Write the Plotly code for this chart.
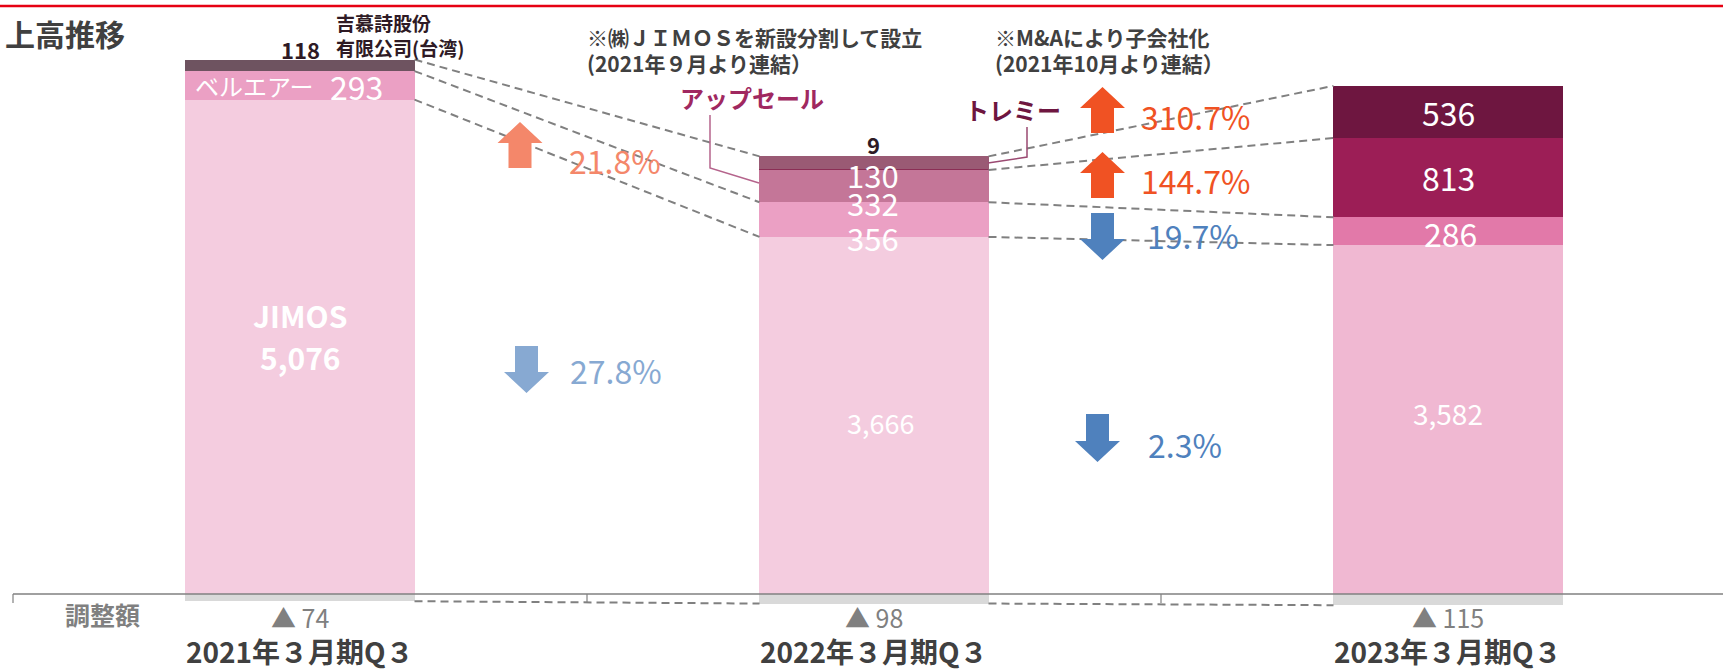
import plotly.graph_objects as go
import numpy as np

# ---------------- data ----------------
categories = ["2021年３月期Q３", "2022年３月期Q３", "2023年３月期Q３"]
jimos = [5076, 3666, 3582]
bellair = [293, 356, 286]
upsell = [0, 332, 813]
jimos_tw = [118, 9, 0]
tremy = [0, 130, 536]
adjustment = [-74, -98, -115]
pct_labels = ["21.8%", "27.8%", "310.7%", "144.7%", "19.7%", "2.3%"]

W, H = 1723, 671
FONT = "Noto Sans CJK JP"

# axis geometry
PX_PER_CAT = 574.0
X0_PX = 300.0
ZERO_PX = 594.0
PX_PER_UNIT = 0.0974
xmin = -X0_PX / PX_PER_CAT
xmax = xmin + W / PX_PER_CAT
ymax = ZERO_PX / PX_PER_UNIT
ymin = -(H - ZERO_PX) / PX_PER_UNIT
BW = 0.399

def px(xp):
    return xmin + xp / PX_PER_CAT

def py(yp):
    return (ZERO_PX - yp) / PX_PER_UNIT

xs = [0, 1, 2]
fig = go.Figure()

def add_bar(vals, colors, name):
    fig.add_trace(go.Bar(x=xs, y=vals, width=BW, name=name,
                         marker=dict(color=colors, line=dict(width=0)),
                         hoverinfo="skip", showlegend=False))

add_bar(adjustment, ["#D9D9D9"] * 3, "調整額")
add_bar(jimos, ["#F4CCDF", "#F4CCDF", "#F0B8D2"], "JIMOS")
add_bar(bellair, ["#EBA0C4", "#EBA0C4", "#E279A9"], "ベルエアー")
add_bar(upsell, ["#C47698", "#C47698", "#9C1E56"], "アップセール")
add_bar(jimos_tw, ["#6E5360", "#8B2E55", "#6E5360"], "吉慕詩")
add_bar(tremy, ["#9A5A74", "#9A5A74", "#6E1640"], "トレミー")

# cumulative tops
c_j = np.array(jimos)
c_b = c_j + np.array(bellair)
c_u = c_b + np.array(upsell)
c_t = c_u + np.array(jimos_tw)
c_all = c_t + np.array(tremy)

connections = [
    (0, c_all[0], c_all[1]),
    (0, c_b[0], c_b[1]),
    (0, c_j[0], c_j[1]),
    (0, adjustment[0], adjustment[1]),
    (1, c_all[1], c_all[2]),
    (1, c_u[1], c_u[2]),
    (1, c_b[1], c_b[2]),
    (1, c_j[1], c_j[2]),
    (1, adjustment[1], adjustment[2]),
]
for i, ya, yb in connections:
    fig.add_trace(go.Scatter(x=[i + BW / 2, i + 1 - BW / 2], y=[ya, yb], mode="lines",
                             line=dict(color="#808080", width=2, dash="8px,5px"),
                             hoverinfo="skip", showlegend=False))

shapes = []
# red top rule
shapes.append(dict(type="line", xref="paper", yref="paper", x0=0, x1=1,
                   y0=1 - 6 / H, y1=1 - 6 / H, line=dict(color="#E60012", width=2.5)))
# baseline + ticks
shapes.append(dict(type="line", xref="x", yref="y", x0=-0.5, x1=xmax, y0=0, y1=0,
                   line=dict(color="#808080", width=1.5)))
for t in [-0.5, 0.5, 1.5]:
    shapes.append(dict(type="line", xref="x", yref="y", x0=t, x1=t, y0=0, y1=py(ZERO_PX + 9),
                       line=dict(color="#808080", width=1.2)))

def arrow(cx, top, bottom, up, color, w=45, sw=23, hh=21):
    if up:
        pts = [(cx, top), (cx + w / 2, top + hh), (cx + sw / 2, top + hh), (cx + sw / 2, bottom),
               (cx - sw / 2, bottom), (cx - sw / 2, top + hh), (cx - w / 2, top + hh)]
    else:
        pts = [(cx, bottom), (cx + w / 2, bottom - hh), (cx + sw / 2, bottom - hh), (cx + sw / 2, top),
               (cx - sw / 2, top), (cx - sw / 2, bottom - hh), (cx - w / 2, bottom - hh)]
    path = "M " + " L ".join(f"{px(a):.5f},{py(b):.3f}" for a, b in pts) + " Z"
    return dict(type="path", xref="x", yref="y", path=path, fillcolor=color, line=dict(width=0))

C_UP1, C_DN1 = "#F4876A", "#87A9D2"
C_UP2, C_DN2 = "#F05223", "#4F81BD"
shapes += [
    arrow(520, 122, 168, True, C_UP1),
    arrow(526.5, 346, 393, False, C_DN1),
    arrow(1102.5, 87, 133, True, C_UP2),
    arrow(1102.5, 152, 198, True, C_UP2),
    arrow(1102.5, 213, 260, False, C_DN2),
    arrow(1097.5, 414, 462, False, C_DN2),
]

# callout lines
def polyline(points, color):
    path = "M " + " L ".join(f"{px(a):.5f},{py(b):.3f}" for a, b in points)
    return dict(type="path", xref="x", yref="y", path=path, line=dict(color=color, width=1.5))

shapes.append(polyline([(710, 115), (710, 168), (759, 183)], "#B5648C"))
shapes.append(polyline([(988, 163), (1027, 157), (1027, 127)], "#9B4A72"))

ann = []
def T(text, x, y, size, color, bold=False, anchor="center"):
    ann.append(dict(text=f"<b>{text}</b>" if bold else text, x=px(x), y=py(y), xref="x", yref="y",
                    showarrow=False, xanchor=anchor, yanchor="middle",
                    font=dict(family=FONT, size=size, color=color)))

T("上高推移", 3, 33, 30, "#404040", True, "left")
T("吉慕詩股份", 334, 22, 19, "#2E1A25", True, "left")
T("有限公司(台湾)", 334, 47, 19, "#2E1A25", True, "left")
T(f"{jimos_tw[0]:,}", 300, 49, 22, "#2E1A25", True)
T("ベルエアー", 193, 85, 24, "white", False, "left")
T(f"{bellair[0]:,}", 356, 86, 32, "white")
T("JIMOS", 300, 315, 30, "white", True)
T(f"{jimos[0]:,}", 300, 357, 30, "white", True)

T(f"{jimos_tw[1]:,}", 873, 144, 22, "#2E1A25", True)
T(f"{tremy[1]:,}", 873, 174, 31, "white")
T(f"{upsell[1]:,}", 873, 202, 31, "white")
T(f"{bellair[1]:,}", 873, 237, 31, "white")
T(f"{jimos[1]:,}", 880, 422, 27, "white")

T(f"{tremy[2]:,}", 1448, 112, 32, "white")
T(f"{upsell[2]:,}", 1448, 177, 32, "white")
T(f"{bellair[2]:,}", 1450, 233, 32, "white")
T(f"{jimos[2]:,}", 1448, 413, 28, "white")

T("※㈱ＪＩＭＯＳを新設分割して設立", 585, 37, 21, "#404040", True, "left")
T("(2021年９月より連結）", 585, 63, 21, "#404040", True, "left")
T("※M&Aにより子会社化", 993, 37, 21, "#404040", True, "left")
T("(2021年10月より連結）", 993, 63, 21, "#404040", True, "left")
T("アップセール", 752, 97, 24, "#A02860", True)
T("トレミー", 1013, 109, 24, "#6E1640", True)

pct_pos = [(567, 160, C_UP1), (568, 370, C_DN1), (1139, 116, C_UP2),
           (1139, 180, C_UP2), (1145, 235, C_DN2), (1146, 444, C_DN2)]
for lab, (x, y, c) in zip(pct_labels, pct_pos):
    T(lab, x, y, 32, c, False, "left")

T("調整額", 102, 614, 25, "#808080", True)
for i, a in enumerate(adjustment):
    ann.append(dict(text=f"▲ {abs(a)}", x=i, y=py(617), xref="x", yref="y", showarrow=False,
                    xanchor="center", yanchor="middle",
                    font=dict(family=FONT, size=25, color="#808080")))
for i, c in enumerate(categories):
    ann.append(dict(text=f"<b>{c}</b>", x=i, y=py(651), xref="x", yref="y", showarrow=False,
                    xanchor="center", yanchor="middle",
                    font=dict(family=FONT, size=28, color="#404040")))

fig.update_layout(
    width=W, height=H, margin=dict(l=0, r=0, t=0, b=0),
    barmode="relative", bargap=0,
    paper_bgcolor="white", plot_bgcolor="white",
    xaxis=dict(range=[xmin, xmax], visible=False, fixedrange=True),
    yaxis=dict(range=[ymin, ymax], visible=False, fixedrange=True),
    shapes=shapes, annotations=ann, showlegend=False,
    font=dict(family=FONT),
)
fig.write_html("out.html", config={"displayModeBar": False},
               post_script="document.body.style.margin='0';document.body.style.padding='0';"
                           "document.body.style.overflow='hidden';")
